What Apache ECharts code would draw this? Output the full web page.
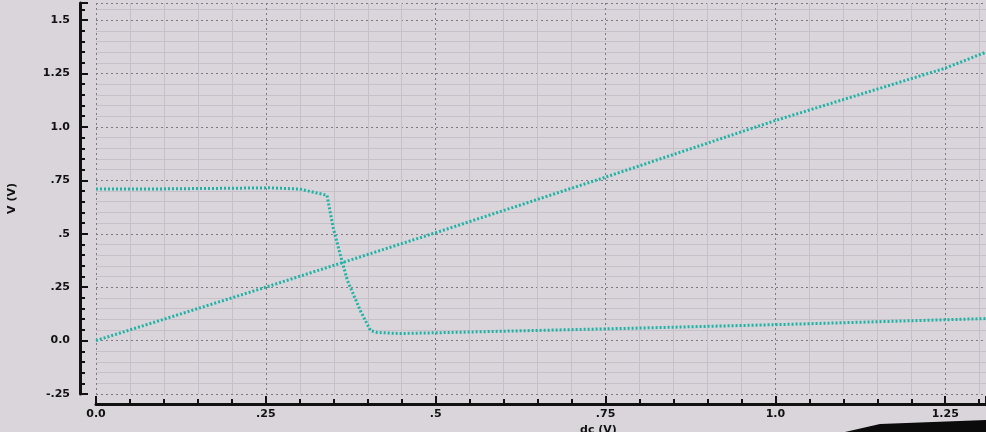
<!DOCTYPE html>
<html>
<head>
<meta charset="utf-8">
<script src="https://cdn.jsdelivr.net/npm/echarts@6/dist/echarts.min.js"></script>
<style>
  html, body { margin: 0; padding: 0; background: #d9d5db; }
  #chart { width: 986px; height: 432px; }
</style>
</head>
<body>
<div id="chart"></div>
<script>
// dc sweep (V) -> output (V)
const rampPoints = [
    [0, 0], [0.25, 0.25], [0.5, 0.505], [0.75, 0.765],
    [1.0, 1.03], [1.25, 1.275], [1.31, 1.35]
];
const inverterPoints = [
    [0, 0.71], [0.1, 0.71], [0.2, 0.713], [0.255, 0.715], [0.3, 0.709],
    [0.34, 0.68], [0.349, 0.53], [0.359, 0.408], [0.37, 0.282],
    [0.389, 0.141], [0.404, 0.047], [0.414, 0.038], [0.448, 0.033],
    [0.52, 0.038], [0.765, 0.056], [1.007, 0.075], [1.31, 0.103]
];
const xTickLabels = { '0': '0.0', '0.25': '.25', '0.5': '.5', '0.75': '.75', '1': '1.0', '1.25': '1.25' };
const yTickLabels = { '-0.25': '-.25', '0': '0.0', '0.25': '.25', '0.5': '.5', '0.75': '.75', '1': '1.0', '1.25': '1.25', '1.5': '1.5' };

const chart = echarts.init(document.getElementById('chart'));

const labelFont = {
    color: '#111',
    fontWeight: 'bold',
    fontSize: 11,
    fontFamily: 'DejaVu Sans'
};
const majorGrid = { show: true, lineStyle: { color: '#7f7984', type: [2, 3], width: 1 } };
const minorGrid = { show: true, lineStyle: { color: '#c6c1c8', type: 'solid', width: 1 } };

const options = {
    backgroundColor: '#d9d5db',
    animation: false,
    grid: {
        left: 96,
        right: 0,
        top: 3,
        bottom: 38,
        outerBoundsMode: 'none'
    },
    xAxis: {
        type: 'value',
        min: 0,
        max: 1.31,
        interval: 0.25,
        offset: 10,
        name: 'dc (V)',
        nameLocation: 'middle',
        nameGap: 12,
        nameTextStyle: Object.assign({ padding: [0, 0, 0, 115] }, labelFont),
        axisLine: { show: true, onZero: false, lineStyle: { color: '#111', width: 3 } },
        axisTick: { show: true, inside: true, length: 8, lineStyle: { color: '#111', width: 2 } },
        minorTick: { show: true, splitNumber: 5, length: 5, lineStyle: { color: '#111', width: 2 } },
        axisLabel: Object.assign({
            margin: 5,
            formatter: v => xTickLabels[String(+v.toFixed(2))] || ''
        }, labelFont),
        splitLine: majorGrid,
        minorSplitLine: minorGrid
    },
    yAxis: {
        type: 'value',
        min: -0.25,
        max: 1.58,
        interval: 0.25,
        offset: 16,
        name: 'V (V)',
        nameLocation: 'middle',
        nameGap: 62,
        nameRotate: 90,
        nameTextStyle: labelFont,
        axisLine: { show: true, onZero: false, lineStyle: { color: '#111', width: 3 } },
        axisTick: { show: true, inside: true, length: 8, lineStyle: { color: '#111', width: 2 } },
        minorTick: { show: true, splitNumber: 5, length: 5, lineStyle: { color: '#111', width: 2 } },
        axisLabel: Object.assign({
            margin: 10,
            formatter: v => yTickLabels[String(+v.toFixed(2))] || ''
        }, labelFont),
        splitLine: majorGrid,
        minorSplitLine: minorGrid
    },
    series: [
        {
            name: 'ramp',
            type: 'line',
            data: rampPoints,
            showSymbol: false,
            lineStyle: { color: '#1db3a5', width: 3, type: [2, 2] }
        },
        {
            name: 'inverter',
            type: 'line',
            data: inverterPoints,
            showSymbol: false,
            lineStyle: { color: '#1db3a5', width: 3, type: [2, 2] }
        }
    ],
    graphic: [
        {
            // dark edge of the photo, bottom right
            type: 'polygon',
            shape: { points: [[845, 432], [880, 424], [986, 420], [986, 432]] },
            style: { fill: '#0b0b0b' },
            z: 100
        }
    ]
};
chart.setOption(options);
</script>
</body>
</html>
